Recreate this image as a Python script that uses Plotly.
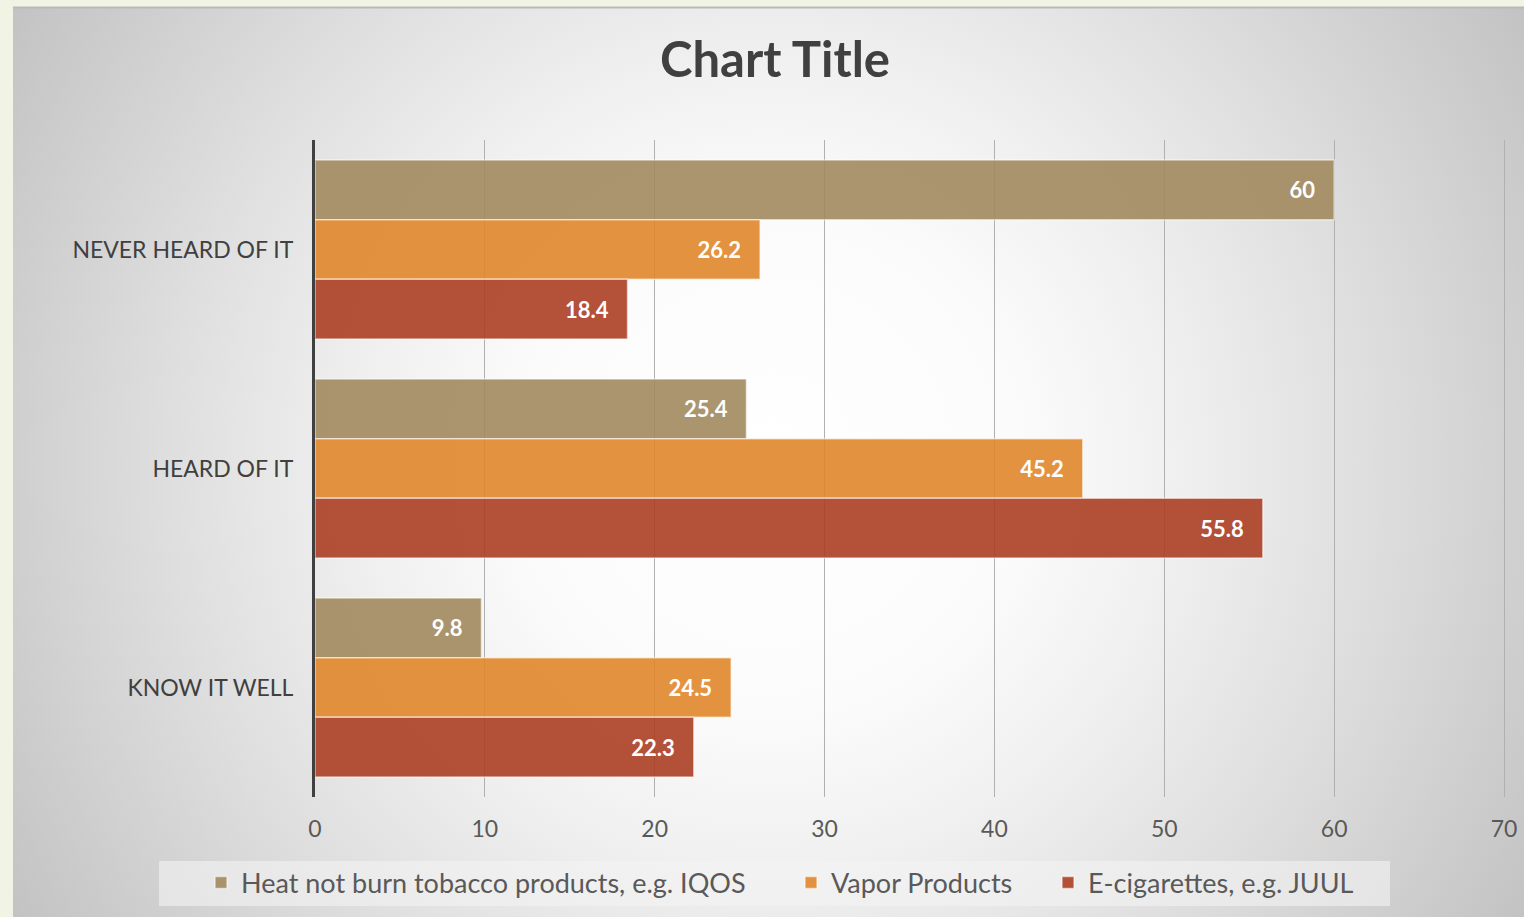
import base64
import plotly.graph_objects as go

# ---- data -------------------------------------------------------------
categories = ["NEVER HEARD OF IT", "HEARD OF IT", "KNOW IT WELL"]
series_names = [
    "Heat not burn tobacco products, e.g. IQOS",
    "Vapor Products",
    "E-cigarettes, e.g. JUUL",
]
heat_not_burn = [60, 25.4, 9.8]
vapor_products = [26.2, 45.2, 24.5]
e_cigarettes = [18.4, 55.8, 22.3]
x_ticks = [0, 10, 20, 30, 40, 50, 60, 70]

series_values = [heat_not_burn, vapor_products, e_cigarettes]
series_colors = ["rgba(162,137,94,0.9)", "rgba(224,135,43,0.9)", "rgba(172,62,36,0.9)"]

W, H = 1524, 917
FONT = "Lato"

# ---- radial gradient backdrop of the chart panel ----------------------
panel_x0, panel_y0 = 13, 8
panel_w, panel_h = W - panel_x0, H - panel_y0
svg = f"""<svg xmlns="http://www.w3.org/2000/svg" width="{panel_w}" height="{panel_h}" viewBox="0 0 {panel_w} {panel_h}" preserveAspectRatio="none">
<defs><radialGradient id="g" gradientUnits="userSpaceOnUse" cx="{panel_w/2}" cy="{panel_h/2}" r="900">
<stop offset="0" stop-color="#ffffff"/>
<stop offset="0.28" stop-color="#fbfbfb"/>
<stop offset="0.45" stop-color="#f0f0f0"/>
<stop offset="0.66" stop-color="#dfdfdf"/>
<stop offset="1" stop-color="#c1c1c1"/>
</radialGradient></defs>
<rect x="0" y="0" width="{panel_w}" height="{panel_h}" fill="url(#g)"/>
</svg>"""
bg_src = "data:image/svg+xml;base64," + base64.b64encode(svg.encode()).decode()

fig = go.Figure()

legend_ids = ["legend", "legend2", "legend3"]
for name, vals, col, lg in zip(series_names, series_values, series_colors, legend_ids):
    fig.add_trace(go.Bar(
        y=categories,
        x=vals,
        name=name,
        orientation="h",
        marker=dict(color=col, line=dict(color="rgba(255,255,255,0.55)", width=1.5)),
        texttemplate="%{x}\u00a0\u00a0\u00a0",
        textposition="inside",
        insidetextanchor="end",
        insidetextfont=dict(family=FONT, size=22, color="white", weight="bold"),
        legend=lg,
        showlegend=True,
        hoverinfo="skip",
    ))

px_x = lambda p: p / W
px_y = lambda p: 1 - p / H

legend_common = dict(
    orientation="h",
    bgcolor="rgba(0,0,0,0)",
    font=dict(family=FONT, size=27, color="#595959"),
    xanchor="left",
    yanchor="middle",
    y=px_y(883),
    itemwidth=30,
)

# x axis: 0 sits on the left axis line, 70 on the last gridline at px 1504;
# the range runs a hair past 70 so that gridline is kept.
X_MAX = 70.12
px_per_unit = (1504 - 315) / 70
x_right_px = 315 + X_MAX * px_per_unit

fig.update_layout(
    width=W,
    height=H,
    margin=dict(l=0, r=0, t=0, b=0, autoexpand=False),
    paper_bgcolor="#f1f4e5",
    plot_bgcolor="rgba(0,0,0,0)",
    showlegend=True,
    barmode="group",
    bargap=0.183,
    bargroupgap=0,
    title=dict(
        text="Chart Title",
        x=px_x(775), xref="paper", xanchor="center",
        y=px_y(60), yref="paper", yanchor="middle",
        font=dict(family=FONT, size=49, color="#404040", weight="bold"),
    ),
    xaxis=dict(
        domain=[px_x(315), px_x(x_right_px)],
        range=[0, X_MAX],
        tickvals=x_ticks,
        showgrid=True,
        gridcolor="#b0b0b0",
        gridwidth=1,
        zeroline=False,
        showline=False,
        ticks="",
        ticklabelstandoff=16,
        tickfont=dict(family=FONT, size=23, color="#595959"),
        fixedrange=True,
    ),
    yaxis=dict(
        domain=[px_y(797), px_y(140)],
        categoryorder="array",
        categoryarray=categories,
        autorange="reversed",
        showgrid=False,
        showline=True,
        linecolor="#404040",
        linewidth=3,
        ticks="",
        ticklabelstandoff=14,
        tickfont=dict(family=FONT, size=23, color="#404040"),
        fixedrange=True,
    ),
    legend=dict(legend_common, x=px_x(201)),
    legend2=dict(legend_common, x=px_x(791)),
    legend3=dict(legend_common, x=px_x(1048)),
    images=[dict(
        source=bg_src, xref="paper", yref="paper",
        x=px_x(panel_x0), y=px_y(panel_y0),
        sizex=panel_w / W, sizey=panel_h / H,
        xanchor="left", yanchor="top", sizing="stretch", layer="below",
    )],
    shapes=[
        # legend backing panel
        dict(type="rect", xref="paper", yref="paper",
             x0=px_x(159), x1=px_x(1390), y0=px_y(906), y1=px_y(861),
             fillcolor="rgba(244,244,244,0.6)", line=dict(width=0), layer="below"),
        # top edge of the chart panel
        dict(type="line", xref="paper", yref="paper",
             x0=px_x(panel_x0), x1=1, y0=px_y(7.5), y1=px_y(7.5),
             line=dict(color="#b9b9b9", width=2)),
    ],
)

fig.write_html("out.html")
